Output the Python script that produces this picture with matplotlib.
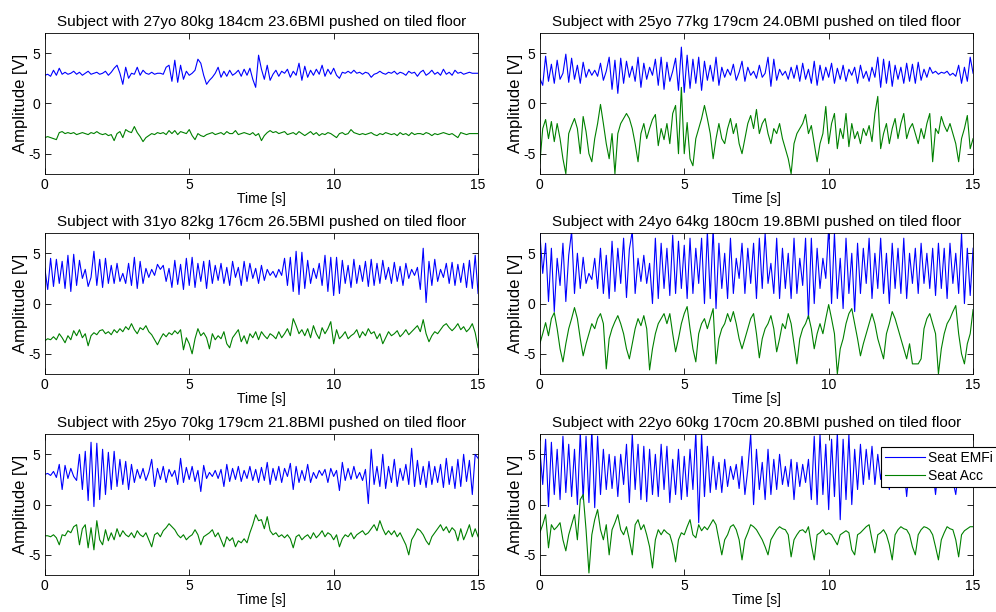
import numpy as np
import matplotlib
matplotlib.use("Agg")
import matplotlib.pyplot as plt

plt.rcParams['font.family'] = ['Liberation Sans', 'DejaVu Sans']
plt.rcParams['axes.unicode_minus'] = False

titles = [
    "Subject with 27yo 80kg 184cm 23.6BMI pushed on tiled floor",
    "Subject with 25yo 77kg 179cm 24.0BMI pushed on tiled floor",
    "Subject with 31yo 82kg 176cm 26.5BMI pushed on tiled floor",
    "Subject with 24yo 64kg 180cm 19.8BMI pushed on tiled floor",
    "Subject with 25yo 70kg 179cm 21.8BMI pushed on tiled floor",
    "Subject with 22yo 60kg 170cm 20.8BMI pushed on tiled floor",
]

# samples every 0.1 s, 0..15 s
emfi_1 = [2.8, 2.9, 2.7, 3.3, 2.8, 3.5, 2.9, 3.1, 2.9, 3.0,
          3.2, 2.9, 3.1, 2.8, 3.0, 3.2, 2.9, 3.0, 3.1, 2.9,
          3.0, 3.2, 2.8, 3.1, 3.5, 3.8, 3.0, 1.9, 3.6, 2.5,
          3.0, 2.9, 3.6, 2.8, 3.3, 3.0, 2.9, 3.1, 2.9, 3.0,
          3.0, 2.9, 3.6, 3.8, 2.2, 4.3, 2.1, 3.8, 2.4, 3.2,
          2.8, 3.0, 3.3, 4.4, 4.0, 2.8, 1.9, 2.3, 2.6, 3.0,
          3.6, 2.6, 3.2, 2.7, 3.3, 2.8, 3.0, 3.3, 2.7, 3.4,
          2.8, 3.5, 2.4, 1.6, 4.8, 3.4, 2.4, 3.8, 2.3, 2.9,
          3.3, 2.7, 3.2, 3.0, 3.4, 2.6, 3.2, 2.8, 4.0, 2.3,
          3.7, 2.6, 3.3, 2.8, 3.4, 2.9, 3.8, 2.7, 3.4, 2.9,
          3.5, 2.8, 2.5, 3.1, 3.0, 3.2, 3.0, 3.3, 3.0, 3.1,
          2.9, 3.1, 3.0, 2.6, 2.9, 3.0, 3.2, 3.0, 2.9, 3.1,
          3.0, 3.2, 2.9, 3.1, 3.0, 2.8, 3.2, 3.0, 3.1, 2.7,
          3.1, 3.3, 2.8, 3.0, 3.3, 2.9, 3.1, 2.8, 3.4, 2.9,
          3.1, 2.8, 3.3, 3.0, 3.1, 2.9, 3.0, 3.1, 3.0, 3.0,
          3.0]
acc_1 = [-3.4, -3.3, -3.4, -3.5, -3.6, -2.9, -2.8, -3.0, -2.9, -3.0,
         -2.9, -3.1, -3.0, -2.9, -3.0, -3.1, -2.9, -3.0, -2.8, -3.0,
         -3.1, -3.0, -3.2, -3.1, -3.7, -3.0, -2.8, -3.4, -2.6, -2.8,
         -2.9, -2.3, -2.9, -3.3, -3.8, -3.4, -3.2, -3.0, -3.1, -2.9,
         -3.0, -2.9, -3.1, -2.7, -3.0, -2.7, -3.1, -2.8, -2.9, -3.0,
         -2.6, -3.2, -3.6, -3.0, -3.2, -3.3, -3.1, -3.0, -2.9, -3.1,
         -3.0, -2.9, -3.1, -2.8, -3.0, -3.0, -2.7, -3.1, -3.0, -2.9,
         -3.0, -3.1, -2.9, -3.2, -3.0, -3.7, -3.2, -2.9, -2.7, -2.9,
         -2.8, -3.0, -2.9, -2.8, -3.1, -3.0, -2.9, -3.1, -2.8, -3.0,
         -3.2, -3.0, -2.8, -3.1, -2.9, -3.2, -3.0, -3.1, -2.9, -3.0,
         -3.2, -3.4, -3.0, -2.9, -3.1, -3.0, -2.6, -2.9, -3.0, -3.1,
         -3.0, -3.1, -3.0, -2.9, -3.1, -3.2, -3.0, -3.1, -2.9, -3.0,
         -3.1, -3.0, -3.2, -2.9, -3.1, -3.0, -3.2, -2.9, -3.1, -3.0,
         -3.0, -3.1, -2.9, -3.0, -3.2, -3.0, -3.1, -3.0, -2.9, -3.0,
         -3.1, -3.0, -3.2, -3.4, -2.9, -3.0, -3.1, -3.0, -3.0, -3.0,
         -3.0]

emfi_2 = [2.5, 1.8, 4.7, 2.2, 3.9, 2.0, 4.3, 2.4, 3.0, 4.9,
          2.1, 4.5, 2.4, 3.8, 2.0, 4.1, 2.6, 3.4, 2.8, 3.3,
          2.7, 4.0, 2.3, 3.2, 4.6, 1.4, 4.3, 1.0, 4.5, 2.0,
          4.2, 2.6, 3.7, 2.2, 4.6, 1.6, 4.0, 2.4, 3.6, 2.8,
          4.4, 1.8, 4.6, 1.4, 4.1, 2.2, 3.2, 4.5, 1.3, 5.6,
          1.1, 4.8, 1.5, 4.4, 2.0, 4.6, 1.3, 4.2, 2.3, 3.8,
          2.2, 4.6, 1.8, 3.6, 2.6, 3.4, 2.8, 3.9, 2.3, 3.1,
          4.2, 2.2, 3.6, 2.8, 3.2, 2.5, 3.8, 2.6, 3.0, 4.6,
          1.7, 4.4, 2.3, 3.4, 2.8, 3.2, 2.4, 3.6, 2.5, 3.8,
          2.2, 4.0, 2.4, 3.4, 2.0, 4.2, 1.8, 3.8, 2.3, 3.6,
          2.6, 4.0, 2.0, 3.5, 2.4, 3.8, 2.2, 3.4, 2.8, 3.6,
          2.0, 3.8, 2.5, 3.2, 2.2, 3.6, 2.6, 4.6, 1.6, 4.4,
          2.0, 4.2, 1.7, 3.8, 2.4, 3.6, 2.0, 4.0, 2.2, 3.9,
          2.0, 4.1, 2.3, 3.4, 2.6, 3.6, 3.0, 3.2, 2.9, 3.1,
          3.0, 3.2, 2.8, 3.0, 2.7, 3.8, 2.0, 3.6, 2.2, 4.6,
          3.0]
acc_2 = [-6.0, -2.5, -1.6, -3.5, -1.8, -3.8, -2.0, -3.5, -5.5, -7.0,
         -3.0, -2.2, -1.5, -2.5, -5.0, -1.3, -2.8, -5.0, -5.8, -3.5,
         -2.0, -0.1, -2.0, -4.0, -5.5, -3.0, -7.0, -3.0, -2.0, -1.5,
         -1.0, -1.5, -2.5, -4.0, -5.8, -3.0, -2.0, -3.5, -2.5, -1.6,
         -1.1, -4.2, -2.5, -3.6, -2.0, -4.0, -1.0, -0.2, -5.0, 1.6,
         -5.0, -1.9, -5.5, -6.2, -3.5, -2.5, -1.5, -0.2, -1.5, -3.0,
         -5.5, -3.5, -2.0, -3.5, -4.0, -2.5, -1.5, -3.0, -2.0, -4.0,
         -5.0, -3.5, -2.0, -1.2, -2.5, -0.6, -3.0, -2.0, -1.5, -3.0,
         -4.0, -2.5, -3.0, -2.0, -3.5, -4.5, -5.5, -7.0, -4.0, -3.0,
         -2.5, -2.0, -1.1, -3.0, -2.2, -4.0, -5.8, -4.0, -3.0, -0.3,
         -4.0, -2.0, -1.0, -4.5, -2.5, -3.5, -1.0, -4.3, -2.0, -3.5,
         -2.8, -4.0, -2.5, -3.2, -2.2, -3.8, -1.0, 0.7, -4.5, -3.0,
         -2.0, -4.0, -2.5, -1.5, -3.5, -2.0, -1.0, -3.5, -2.5, -2.0,
         -3.0, -4.0, -2.5, -3.5, -2.0, -1.0, -5.8, -2.5, -3.0, -1.3,
         -2.2, -2.8, -2.0, -3.0, -4.0, -5.8, -3.5, -2.5, -1.2, -4.5,
         -3.5]

emfi_3 = [3.5, 1.4, 4.5, 1.7, 4.4, 2.0, 4.2, 1.5, 4.8, 1.2,
          4.9, 1.8, 4.3, 2.5, 3.4, 1.7, 2.6, 5.2, 1.8, 4.4,
          1.6, 4.5, 2.0, 3.8, 2.0, 4.0, 2.2, 3.0, 2.0, 4.0,
          1.8, 4.6, 1.5, 4.2, 2.0, 3.5, 2.6, 3.4, 2.8, 3.9,
          3.4, 3.8, 2.2, 3.5, 1.6, 4.3, 1.9, 3.9, 1.4, 4.5,
          1.8, 4.6, 1.6, 4.0, 2.2, 4.2, 1.5, 4.3, 2.0, 3.8,
          2.3, 4.0, 2.0, 3.6, 1.8, 4.2, 2.6, 3.6, 1.8, 4.2,
          2.2, 4.0, 2.5, 3.5, 2.0, 3.8, 2.3, 3.4, 2.8, 3.2,
          2.6, 3.4, 2.8, 4.5, 1.8, 4.6, 1.2, 5.2, 0.9, 5.1,
          1.5, 4.3, 2.0, 3.5, 2.5, 4.0, 1.8, 4.8, 1.2, 4.6,
          0.8, 4.6, 1.0, 4.3, 2.0, 3.8, 1.6, 4.4, 2.0, 3.8,
          2.2, 4.2, 1.7, 4.4, 1.8, 4.0, 2.0, 4.3, 2.4, 3.6,
          2.0, 4.1, 2.2, 3.7, 1.8, 4.0, 2.5, 3.4, 2.8, 3.6,
          1.4, 5.5, 0.1, 4.2, 1.8, 4.4, 2.2, 3.4, 2.6, 4.0,
          2.0, 4.1, 1.8, 3.9, 2.1, 4.0, 1.6, 4.3, 1.5, 4.8,
          1.0]
acc_3 = [-3.7, -3.5, -3.6, -3.3, -3.6, -3.0, -3.4, -3.9, -3.2, -3.6,
         -2.7, -3.2, -2.6, -3.4, -3.0, -4.2, -3.2, -2.9, -3.1, -2.7,
         -2.6, -3.0, -2.8, -3.1, -2.6, -2.9, -2.5, -2.8, -2.3, -2.6,
         -2.0, -2.6, -3.0, -2.4, -2.6, -2.2, -2.8, -3.1, -3.6, -4.1,
         -3.5, -3.0, -3.3, -2.9, -3.1, -2.7, -3.0, -2.6, -4.6, -3.4,
         -4.0, -5.0, -3.5, -2.5, -3.2, -2.9, -3.4, -4.5, -3.0, -3.6,
         -3.2, -3.5, -2.8, -4.0, -4.4, -3.4, -3.0, -2.6, -3.8, -3.2,
         -4.0, -3.0, -3.4, -2.8, -3.6, -2.8, -3.2, -3.5, -3.0, -3.2,
         -3.5, -2.8, -3.4, -3.0, -2.5, -3.2, -1.5, -2.2, -3.0, -2.6,
         -3.2, -2.5, -3.4, -2.2, -3.0, -3.5, -2.4, -3.0, -2.5, -1.8,
         -4.0, -2.6, -3.5, -3.2, -2.8, -3.5, -3.2, -3.0, -2.6, -3.4,
         -2.8, -3.2, -2.5, -3.0, -2.8, -3.5, -3.0, -4.0, -3.4, -2.8,
         -3.2, -3.0, -2.7, -3.3, -3.0, -2.6, -3.1, -2.8, -2.5, -2.2,
         -2.8, -1.6, -3.0, -3.8, -3.2, -2.8, -3.0, -2.6, -2.2, -2.0,
         -2.4, -2.7, -2.4, -2.0, -2.6, -2.3, -2.8, -2.5, -2.0, -2.9,
         -4.4]

emfi_4 = [7.0, 3.0, 6.0, 0.2, 5.5, -0.8, 4.5, 1.8, 6.0, 0.2,
          4.8, 7.2, 1.0, 5.0, 1.5, 4.6, 2.0, 3.0, 2.4, 4.5,
          1.5, 5.5, 1.0, 4.8, 0.5, 6.2, 1.2, 5.5, 2.0, 6.5,
          0.6, 5.4, 7.2, 1.0, 4.5, 2.2, 4.8, 2.0, 4.0, 0.0,
          6.5, 0.5, 6.0, 1.5, 5.5, 0.8, 6.8, 1.0, 6.2, 1.5,
          5.8, 0.5, 6.5, 1.0, 5.5, 2.0, 6.5, 0.0, 7.2, 0.5,
          7.5, -0.5, 6.0, 1.5, 5.0, 0.5, 6.5, 1.0, 4.5, 2.5,
          6.0, 1.0, 5.5, 2.0, 6.0, 0.5, 6.5, 1.5, 7.0, 2.0,
          4.0, 1.0, 6.5, 0.5, 5.5, 1.5, 5.0, 0.5, 6.5, 1.0,
          4.5, 1.8, 6.5, -1.5, 6.5, 0.0, 5.5, 1.5, 4.5, 2.5,
          7.5, 0.0, 7.0, 0.5, 4.5, -0.5, 6.5, 1.0, 5.0, -0.8,
          6.0, 1.0, 5.5, 2.0, 6.5, 0.5, 5.0, 1.5, 6.5, 1.0,
          5.0, 0.0, 6.0, 1.5, 5.5, 1.0, 6.5, 0.5, 5.0, 2.0,
          5.5, 1.0, 6.0, 2.0, 5.0, 1.5, 5.5, 0.8, 6.0, 1.5,
          5.5, 0.5, 6.0, 2.0, 5.0, 1.0, 7.0, 0.0, 5.5, 0.8,
          5.5]
acc_4 = [-4.0, -3.0, -1.9, -3.2, -1.5, -0.9, -2.5, -4.5, -5.8, -4.0,
         -2.5, -1.5, -0.4, -1.5, -3.5, -5.2, -4.0, -3.0, -2.0, -2.5,
         -1.5, -1.0, -2.0, -6.5, -3.5, -2.5, -1.8, -1.2, -2.0, -3.0,
         -4.5, -5.5, -4.0, -2.5, -1.5, -2.2, -1.2, -2.5, -6.6, -4.5,
         -3.0, -2.0, -1.5, -1.0, -2.0, -1.0, -3.0, -4.8, -3.5, -2.0,
         -1.0, -0.3, -2.5, -4.5, -5.8, -3.0, -2.0, -1.5, -2.5, -1.5,
         -0.5, -6.0, -3.5, -2.5, -2.0, -1.0, -1.8, -0.8, -2.0, -3.5,
         -4.5, -3.5, -2.5, -1.5, -1.0, -3.0, -5.4, -3.5, -2.5, -2.0,
         -1.2, -2.5, -4.8, -3.5, -2.0, -2.5, -1.0, -2.0, -4.0, -6.0,
         -3.5, -2.5, -2.0, -1.2, -2.5, -4.5, -3.0, -2.0, -3.0, -1.5,
         -0.1, -1.5, -3.0, -7.0, -4.5, -3.5, -2.0, -1.0, -0.5, -2.0,
         -3.5, -5.2, -4.0, -3.0, -2.0, -1.0, -2.0, -3.5, -4.5, -5.5,
         -3.0, -2.0, -0.8, -1.5, -2.5, -3.5, -4.5, -5.5, -4.0, -6.0,
         -6.0, -6.0, -5.5, -2.5, -1.5, -1.0, -2.0, -3.0, -7.0, -4.5,
         -3.0, -2.0, -1.5, -0.8, -0.2, -3.0, -5.0, -6.0, -4.0, -3.0,
         -0.6]

emfi_5 = [3.0, 3.1, 2.9, 3.3, 2.7, 4.0, 1.5, 3.9, 2.6, 3.6,
          2.8, 2.4, 5.0, 1.5, 5.3, 0.4, 6.2, -0.2, 6.1, 0.5,
          5.5, 1.0, 5.2, 1.5, 5.3, 1.8, 4.5, 2.0, 4.3, 1.5,
          4.0, 2.2, 3.5, 2.6, 3.6, 2.4, 3.2, 4.5, 1.8, 3.6,
          2.5, 3.8, 2.2, 3.5, 2.8, 3.4, 2.0, 4.6, 2.2, 3.7,
          2.5, 3.8, 2.3, 3.4, 1.3, 3.9, 2.6, 3.2, 2.8, 3.4,
          2.6, 3.5, 1.8, 4.0, 2.3, 3.6, 2.5, 3.8, 2.3, 3.4,
          2.6, 3.8, 2.4, 3.5, 2.2, 3.7, 2.4, 4.2, 2.0, 3.6,
          2.4, 3.8, 2.2, 3.6, 2.8, 4.1, 1.5, 3.8, 2.2, 3.4,
          2.4, 4.0, 2.2, 3.2, 2.6, 3.4, 2.9, 3.5, 2.2, 3.6,
          2.8, 3.4, 1.4, 4.2, 2.4, 3.6, 2.5, 3.8, 2.6, 3.2,
          2.4, 3.5, 0.1, 5.5, 2.0, 3.8, 1.8, 5.0, 1.6, 3.8,
          2.2, 4.5, 1.8, 3.6, 2.4, 4.0, 2.0, 5.6, 1.8, 4.4,
          2.0, 3.8, 1.7, 4.3, 2.0, 3.8, 2.2, 4.0, 1.7, 4.6,
          2.0, 3.8, 1.6, 4.5, 1.8, 5.0, 2.3, 4.4, 1.0, 5.0,
          4.6]
acc_5 = [-3.1, -3.1, -3.2, -3.0, -3.3, -4.0, -3.0, -3.1, -2.6, -2.8,
         -2.2, -2.0, -4.0, -2.4, -2.0, -4.3, -2.3, -4.5, -1.6, -3.5,
         -4.0, -2.5, -3.6, -2.8, -3.5, -2.4, -3.2, -2.6, -3.0, -3.2,
         -2.8, -3.3, -2.6, -3.0, -3.2, -2.8, -3.5, -4.2, -3.0, -2.8,
         -3.2, -2.6, -2.3, -1.9, -2.2, -2.5, -3.0, -3.3, -3.0, -3.5,
         -3.2, -3.0, -2.5, -3.0, -4.0, -3.2, -3.0, -2.8, -2.5, -3.2,
         -2.8, -3.5, -4.2, -3.2, -3.6, -3.3, -4.2, -3.6, -3.8, -3.4,
         -3.8, -2.8, -2.0, -1.0, -1.6, -1.5, -2.4, -1.2, -2.6, -3.0,
         -2.8, -3.2, -3.0, -3.3, -3.0, -3.4, -4.3, -3.2, -3.0, -3.5,
         -3.2, -3.0, -3.4, -2.8, -3.3, -3.0, -2.6, -3.2, -2.8, -3.0,
         -3.5, -3.0, -4.2, -3.4, -3.0, -3.2, -2.8, -3.4, -3.0, -2.8,
         -2.6, -3.0, -2.8, -2.4, -2.0, -2.6, -1.6, -2.4, -3.0, -2.6,
         -3.0, -2.6, -3.2, -2.8, -3.4, -4.0, -5.0, -3.5, -3.0, -2.4,
         -2.6, -3.0, -3.6, -4.0, -3.2, -2.8, -2.4, -2.0, -2.6, -2.2,
         -2.8, -2.3, -2.6, -3.6, -2.4, -3.5, -2.8, -2.0, -3.2, -2.4,
         -3.2]

emfi_6 = [5.5, 2.0, 6.5, -0.2, 6.2, 1.0, 5.5, 0.5, 6.8, 1.2,
          6.0, 0.8, 5.5, 0.0, 7.2, 0.5, 6.8, 0.2, 7.5, -0.3,
          6.8, 1.0, 5.5, 1.5, 5.0, 1.6, 4.8, 0.8, 5.0, 2.0,
          6.0, 0.2, 7.0, 1.5, 6.0, 0.5, 5.8, 0.3, 5.5, 1.0,
          5.0, 0.8, 6.0, 1.5, 5.8, 0.2, 4.5, 1.0, 5.5, 0.5,
          4.8, 0.8, 5.5, 1.5, 7.2, -1.8, 7.0, 0.8, 5.8, 1.2,
          4.8, 1.5, 4.2, 1.2, 4.5, 1.8, 3.8, 2.5, 4.0, 1.6,
          4.8, 1.0, 3.5, 7.0, 0.0, 5.5, 1.5, 4.2, 0.5, 5.5,
          1.0, 4.5, 1.5, 5.0, 2.0, 3.8, 1.8, 4.5, 0.5, 4.2,
          1.8, 4.0, 2.2, 4.5, 0.5, 6.8, 0.0, 7.0, 1.0, 6.0,
          -0.5, 6.5, 0.8, 7.2, -1.5, 6.5, 0.5, 7.0, 0.0, 5.5,
          1.5, 6.0, 2.0, 5.5, 2.5, 5.8, 2.0, 5.0, 2.5, 4.5,
          4.5, 1.5, 4.0, 2.5, 4.2, 2.2, 3.8, 0.8, 4.0, 2.5,
          3.8, 2.2, 4.0, 2.5, 3.6, 2.4, 3.5, 1.0, 3.8, 2.5,
          3.5, 2.2, 3.8, 2.4, 1.0, 3.5, 2.6, 4.5, 2.2, 4.8,
          3.0]
acc_6 = [-2.8, -2.0, -1.0, -4.3, -2.0, -2.5, -2.2, -1.8, -3.5, -4.6,
         -3.0, -2.0, -1.0, -3.5, 0.5, 1.0, -2.5, -6.8, -3.0, -1.5,
         -0.5, -2.5, -3.5, -2.0, -5.0, -2.5, -1.8, -1.0, -2.5, -3.0,
         -2.2, -3.5, -5.0, -2.0, -1.5, -2.5, -2.0, -3.0, -4.2, -6.3,
         -3.5, -2.5, -3.0, -2.5, -2.8, -3.0, -4.0, -5.7, -3.5, -2.8,
         -3.0, -2.2, -1.5, -3.0, -3.3, -2.0, -2.6, -2.2, -2.5, -2.0,
         -1.5, -2.0, -3.5, -5.0, -3.5, -3.0, -2.2, -2.0, -2.5, -3.5,
         -5.5, -3.5, -2.8, -2.0, -2.2, -2.5, -3.0, -3.5, -4.2, -5.0,
         -3.5, -3.0, -2.5, -2.2, -2.4, -2.5, -3.0, -5.2, -3.5, -3.0,
         -2.6, -2.5, -2.8, -2.2, -4.0, -5.5, -3.0, -2.8, -2.5, -3.0,
         -2.8, -3.0, -3.5, -4.0, -3.0, -2.8, -2.6, -2.8, -4.5, -5.0,
         -3.0, -2.8, -2.5, -2.2, -2.0, -3.5, -4.8, -3.0, -2.8, -2.5,
         -3.0, -4.0, -5.5, -3.0, -2.5, -2.2, -2.4, -2.5, -3.0, -4.2,
         -5.0, -3.0, -2.5, -2.2, -2.3, -2.5, -3.0, -4.2, -5.5, -3.5,
         -2.8, -2.2, -2.4, -2.5, -3.5, -5.2, -3.0, -2.6, -2.4, -2.2,
         -2.2]

emfi = [emfi_1, emfi_2, emfi_3, emfi_4, emfi_5, emfi_6]
acc = [acc_1, acc_2, acc_3, acc_4, acc_5, acc_6]

fig = plt.figure(figsize=(9.96, 6.12), dpi=100)

lefts = [0.045, 0.542]
bottoms = [0.716, 0.389, 0.0605]
w, h = 0.435, 0.230

for i in range(6):
    row, col = i // 2, i % 2
    ax = fig.add_axes([lefts[col], bottoms[row], w, h])
    t = np.linspace(0, 15, len(emfi[i]))
    ax.plot(t, emfi[i], color='#0000ff', lw=0.8, label='Seat EMFi')
    ax.plot(t, acc[i], color='#008000', lw=0.8, label='Seat Acc')
    ax.set_xlim(0, 15)
    ax.set_ylim(-7, 7)
    ax.set_xticks([0, 5, 10, 15])
    ax.set_yticks([-5, 0, 5])
    ax.tick_params(direction='in', top=True, right=True, length=4,
                   width=0.6, labelsize=10, pad=3)
    for s in ax.spines.values():
        s.set_linewidth(0.6)
    ax.set_title(titles[i], fontsize=11, pad=5)
    ax.set_xlabel('Time [s]', fontsize=10, labelpad=0)
    ax.set_ylabel('Amplitude [V]', fontsize=12, labelpad=0)
    if i == 5:
        leg = ax.legend(loc='upper left', bbox_to_anchor=(881 / 996, 1 - 447 / 612),
                        bbox_transform=fig.transFigure, fontsize=10,
                        borderaxespad=0, handlelength=2.9, handletextpad=0.2,
                        borderpad=0.3, labelspacing=0.3, fancybox=False,
                        framealpha=1, edgecolor='black')
        leg.get_frame().set_linewidth(0.8)

fig.savefig('out.png', dpi=100)
